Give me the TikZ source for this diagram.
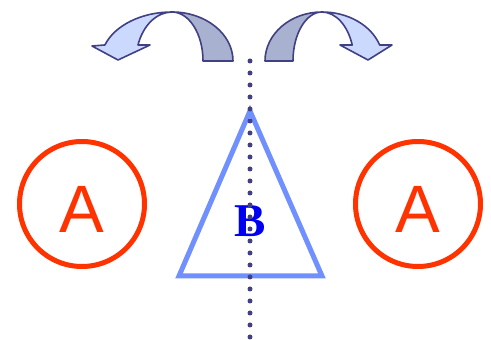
\documentclass[tikz,border=0pt]{standalone}
\usepackage{fontspec}
\newfontfamily\asans{Liberation Sans}
\newfontfamily\bserif{Liberation Serif}
\definecolor{navy}{RGB}{64,64,130}
\definecolor{lightfill}{RGB}{204,217,255}
\definecolor{darkfill}{RGB}{168,178,208}
\definecolor{redA}{RGB}{255,51,0}
\definecolor{triblue}{RGB}{112,144,255}
\definecolor{bblue}{RGB}{0,0,240}
\begin{document}
\begin{tikzpicture}[x=1pt,y=1pt,
  band/.style={draw=navy,line width=1.6pt,line join=round},
  ring/.style={draw=redA,line width=5pt},
  letterA/.style={font=\asans\fontsize{67}{67}\selectfont,text=redA,inner sep=0pt,anchor=base},
  axis/.style={draw=navy,line width=5pt,line cap=round,dash pattern=on 0pt off 12pt}]
\useasboundingbox (0,0) rectangle (491,340);
% axis dots
\coordinate (axtop) at (250,279);
\coordinate (axbot) at (250,3);
% left curved arrow
\filldraw[band,fill=darkfill] (233,279) arc[start angle=0,end angle=90,x radius=61pt,y radius=49pt]
  arc[start angle=90,end angle=0,x radius=31pt,y radius=49pt] -- cycle;
\filldraw[band,fill=lightfill] (172,328) arc[start angle=90,end angle=160.9,x radius=71pt,y radius=49pt]
  -- (92,294) -- (118,280) -- (150,295) -- (138,295)
  arc[start angle=160.9,end angle=90,x radius=36pt,y radius=49pt] -- cycle;
% right curved arrow
\filldraw[band,fill=darkfill] (265,279) arc[start angle=180,end angle=90,x radius=57pt,y radius=49pt]
  arc[start angle=90,end angle=180,x radius=29pt,y radius=49pt] -- cycle;
\filldraw[band,fill=lightfill] (322,328) arc[start angle=90,end angle=19.1,x radius=61pt,y radius=49pt]
  -- (392,295) -- (368,280) -- (340,295) -- (352.2,295)
  arc[start angle=19.1,end angle=90,x radius=32pt,y radius=49pt] -- cycle;
% circles
\node[circle,ring,minimum size=125pt,inner sep=0pt] (cl) at (82,136) {};
\node[circle,ring,minimum size=125pt,inner sep=0pt] (cr) at (418,136) {};
\node[letterA] (al) at (82,107) {A};
\node[letterA] (ar) at (418,107) {A};
% triangle
\draw[draw=triblue,line width=5pt,line join=miter] (179,64) -- (322,64) -- (250,229) -- cycle;
\node[font=\bserif\bfseries\fontsize{47}{47}\selectfont,text=bblue,inner sep=0pt,anchor=base] (b) at (250.5,103) {B};
\draw[axis] (axtop) -- (axbot);
\end{tikzpicture}
\end{document}
